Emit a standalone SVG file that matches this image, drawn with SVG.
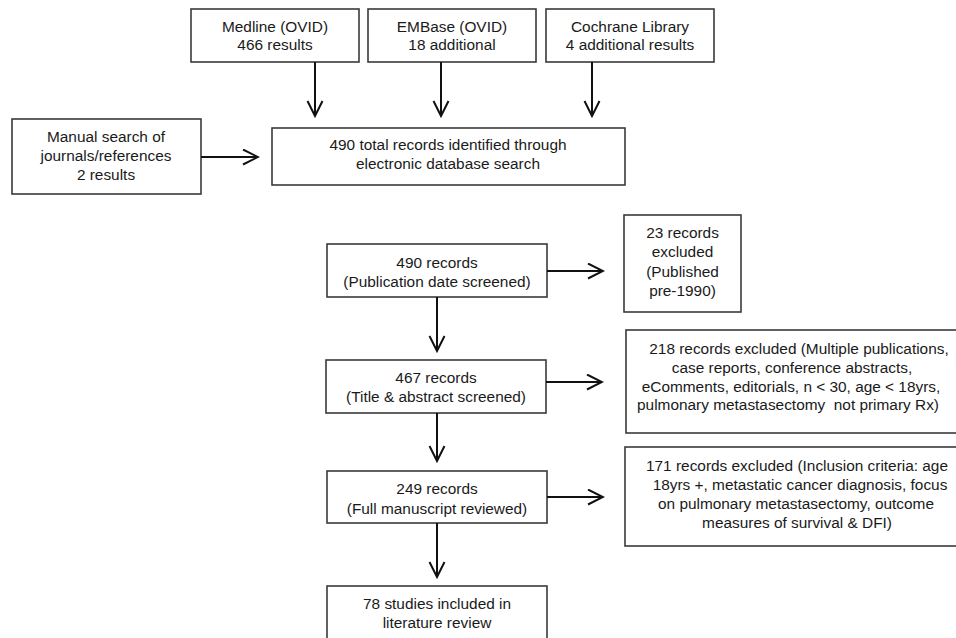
<svg xmlns="http://www.w3.org/2000/svg" width="956" height="638" viewBox="0 0 956 638">
<defs>
<marker id="arr" markerUnits="userSpaceOnUse" markerWidth="18" markerHeight="18" viewBox="0 0 18 18" refX="16" refY="8.5" orient="auto">
<path d="M1,1 L16,8.5 L1,16" fill="none" stroke="#111" stroke-width="2"/>
</marker>
</defs>
<style>
.box{fill:#fff;stroke:#3a3a3a;stroke-width:1.6}
.t{font-family:"Liberation Sans",Arial,sans-serif;font-size:15.4px;fill:#1a1a1a;text-anchor:middle}
.c{stroke:#111;stroke-width:2;fill:none;marker-end:url(#arr)}
</style>
<rect width="956" height="638" fill="#fff"/>
<g id="medline"><rect class="box" x="191" y="9" width="168" height="53"/>
<text class="t" x="275" y="31.5">Medline (OVID)</text><text class="t" x="275" y="49.5">466 results</text></g>
<g id="embase"><rect class="box" x="368" y="9" width="168" height="53"/>
<text class="t" x="452" y="31.5">EMBase (OVID)</text><text class="t" x="452" y="49.5">18 additional</text></g>
<g id="cochrane"><rect class="box" x="546" y="9" width="168" height="53"/>
<text class="t" x="630" y="31.5">Cochrane Library</text><text class="t" x="630" y="49.5">4 additional results</text></g>
<g id="manual"><rect class="box" x="12" y="119" width="189" height="75"/>
<text class="t" x="106" y="141.5">Manual search of</text><text class="t" x="106" y="161">journals/references</text><text class="t" x="106" y="179.5">2 results</text></g>
<g id="total"><rect class="box" x="272" y="128" width="353" height="57"/>
<text class="t" x="448" y="149.5">490 total records identified through</text><text class="t" x="448" y="168.5">electronic database search</text></g>
<g id="r490"><rect class="box" x="327" y="244" width="220" height="53"/>
<text class="t" x="437" y="267.5">490 records</text><text class="t" x="437" y="286.5">(Publication date screened)</text></g>
<g id="ex23"><rect class="box" x="624" y="215" width="117" height="97"/>
<text class="t" x="682.5" y="237.5">23 records</text><text class="t" x="682.5" y="256.5">excluded</text><text class="t" x="682.5" y="276.5">(Published</text><text class="t" x="682.5" y="295.5">pre-1990)</text></g>
<g id="r467"><rect class="box" x="326" y="360" width="220" height="53"/>
<text class="t" x="436" y="382.5">467 records</text><text class="t" x="436" y="401.5">(Title &amp; abstract screened)</text></g>
<g id="ex218"><rect class="box" x="626" y="330" width="340" height="103"/>
<text class="t" x="799" y="353.5">218 records excluded (Multiple publications,</text>
<text class="t" x="792" y="372.5">case reports, conference abstracts,</text>
<text class="t" x="791" y="391.5">eComments, editorials, n &lt; 30, age &lt; 18yrs,</text>
<text class="t" x="788" y="409.5" xml:space="preserve">pulmonary metastasectomy  not primary Rx)</text></g>
<g id="r249"><rect class="box" x="327" y="471" width="220" height="52"/>
<text class="t" x="437" y="493.5">249 records</text><text class="t" x="437" y="513.5">(Full manuscript reviewed)</text></g>
<g id="ex171"><rect class="box" x="625" y="447" width="340" height="99"/>
<text class="t" x="797" y="470.5">171 records excluded (Inclusion criteria: age</text>
<text class="t" x="800" y="489.5">18yrs +, metastatic cancer diagnosis, focus</text>
<text class="t" x="796" y="508.5">on pulmonary metastasectomy, outcome</text>
<text class="t" x="797" y="527.5">measures of survival &amp; DFI)</text></g>
<g id="r78"><rect class="box" x="327" y="586" width="220" height="60"/>
<text class="t" x="437" y="608.5">78 studies included in</text><text class="t" x="437" y="627.5">literature review</text></g>
<g id="connectors">
<line class="c" x1="315" y1="62" x2="315" y2="116"/>
<line class="c" x1="441" y1="62" x2="441" y2="116"/>
<line class="c" x1="592" y1="62" x2="592" y2="116"/>
<line class="c" x1="201" y1="157" x2="258" y2="157"/>
<line class="c" x1="547" y1="271" x2="603" y2="271"/>
<line class="c" x1="437" y1="297" x2="437" y2="351"/>
<line class="c" x1="546" y1="382" x2="602" y2="382"/>
<line class="c" x1="437" y1="413" x2="437" y2="461"/>
<line class="c" x1="547" y1="497" x2="603" y2="497"/>
<line class="c" x1="437" y1="523" x2="437" y2="577"/>
</g>
</svg>
